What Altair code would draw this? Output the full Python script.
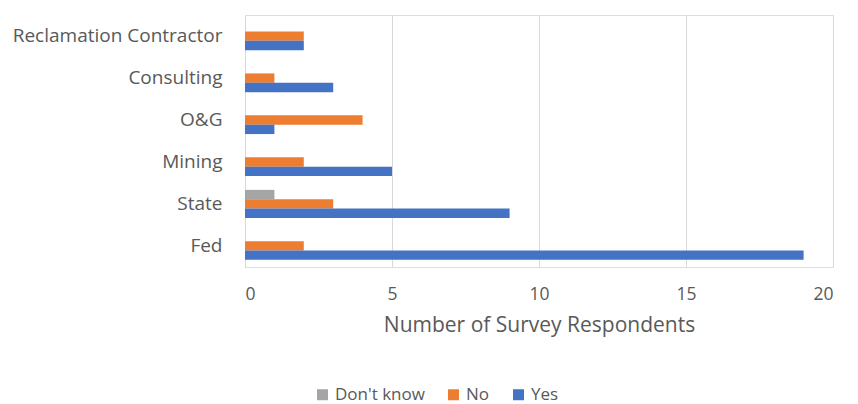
import altair as alt
import pandas as pd

# Survey responses by sector
sectors = ["Reclamation Contractor", "Consulting", "O&G", "Mining", "State", "Fed"]
dont_know = [0, 0, 0, 0, 1, 0]
no = [2, 1, 4, 2, 3, 2]
yes = [2, 3, 1, 5, 9, 19]

series_order = ["Don't know", "No", "Yes"]
series_colors = ["#A5A5A5", "#ED7D31", "#4472C4"]

rows = []
for i, s in enumerate(sectors):
    rows.append({"Sector": s, "Answer": "Don't know", "Count": dont_know[i]})
    rows.append({"Sector": s, "Answer": "No", "Count": no[i]})
    rows.append({"Sector": s, "Answer": "Yes", "Count": yes[i]})
df = pd.DataFrame(rows)

font = "Open Sans"
text_color = "#595959"

chart = alt.Chart(df).mark_bar().encode(
    y=alt.Y(
        "Sector:N",
        sort=sectors,
        scale=alt.Scale(paddingInner=0.33, paddingOuter=0.17),
        axis=alt.Axis(
            title=None,
            ticks=False,
            domain=True,
            domainColor="#d9d9d9",
            labelFont=font,
            labelFontSize=19,
            labelColor=text_color,
            labelPadding=23,
            labelLimit=400,
        ),
    ),
    yOffset=alt.YOffset("Answer:N", sort=series_order),
    x=alt.X(
        "Count:Q",
        scale=alt.Scale(domain=[0, 20], nice=False),
        axis=alt.Axis(
            title="Number of Survey Respondents",
            values=[0, 5, 10, 15, 20],
            ticks=False,
            domain=False,
            grid=True,
            gridColor="#d9d9d9",
            labelFont=font,
            labelFontSize=17.5,
            labelColor=text_color,
            labelPadding=18,
            titleFont=font,
            titleFontSize=21,
            titleFontWeight="normal",
            titleColor=text_color,
            titlePadding=12,
        ),
    ),
    color=alt.Color(
        "Answer:N",
        sort=series_order,
        scale=alt.Scale(domain=series_order, range=series_colors),
        legend=alt.Legend(
            title=None,
            orient="none",
            direction="horizontal",
            legendX=69,
            legendY=371,
            symbolType="square",
            symbolSize=121,
            symbolStrokeWidth=0,
            labelFont=font,
            labelFontSize=17,
            labelColor=text_color,
            columnPadding=20,
            labelOffset=4,
        ),
    ),
).properties(
    width=588,
    height=252,
    autosize=alt.AutoSizeParams(type="none"),
    padding={"left": 245, "top": 15, "right": 25, "bottom": 137},
).configure_view(stroke=None).configure(background="white")

chart.save("out.html", embed_options={"renderer": "svg", "actions": False})
